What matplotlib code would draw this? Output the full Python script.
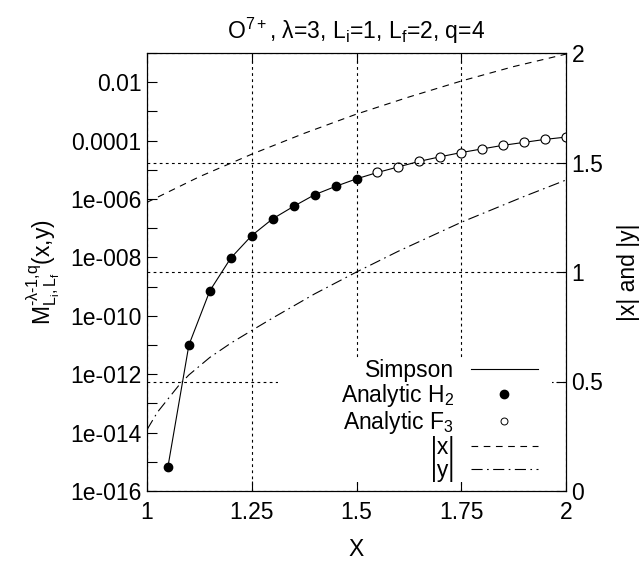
import matplotlib
matplotlib.use('Agg')
import matplotlib.pyplot as plt
from matplotlib.lines import Line2D
from matplotlib.patches import Rectangle
from matplotlib.ticker import FixedLocator, FuncFormatter

plt.rcParams['font.family'] = ['Liberation Sans', 'DejaVu Sans']
plt.rcParams['mathtext.fontset'] = 'custom'
plt.rcParams['mathtext.rm'] = 'Liberation Sans'
plt.rcParams['mathtext.it'] = 'Liberation Sans'
plt.rcParams['mathtext.sf'] = 'Liberation Sans'
plt.rcParams['mathtext.default'] = 'regular'

# ---- data ----
X_h2 = [1.05, 1.10, 1.15, 1.20, 1.25, 1.30, 1.35, 1.40, 1.45, 1.50]
M_h2 = [6.8e-16, 1.0e-11, 7.2e-10, 9.5e-9, 5.6e-8, 2.1e-7, 5.6e-7, 1.4e-6, 2.7e-6, 4.9e-6]
X_f3 = [1.55, 1.60, 1.65, 1.70, 1.75, 1.80, 1.85, 1.90, 1.95, 2.00]
M_f3 = [8.1e-6, 1.26e-5, 1.95e-5, 2.8e-5, 3.9e-5, 5.2e-5, 6.9e-5, 8.7e-5, 1.1e-4, 1.32e-4]
X_simpson = X_h2 + X_f3
M_simpson = M_h2 + M_f3

X_absx = [1.0, 1.125, 1.25, 1.375, 1.5, 1.625, 1.75, 1.875, 2.0]
abs_x = [1.318, 1.435, 1.538, 1.633, 1.721, 1.799, 1.872, 1.938, 1.995]

X_absy = [1.0, 1.025, 1.05, 1.075, 1.1, 1.15, 1.2, 1.25, 1.3, 1.35, 1.4, 1.5, 1.6, 1.75, 1.9, 2.0]
abs_y = [0.28, 0.36, 0.42, 0.48, 0.53, 0.61, 0.675, 0.733, 0.79, 0.845, 0.90, 1.0, 1.095, 1.227, 1.345, 1.42]

x_ticks = [1, 1.25, 1.5, 1.75, 2]
x_ticklabels = ['1', '1.25', '1.5', '1.75', '2']
y2_ticks = [0, 0.5, 1, 1.5, 2]
y2_ticklabels = ['0', '0.5', '1', '1.5', '2']
y_decades = list(range(-16, 0))

FS = 16.5
LW = 0.8

fig = plt.figure(figsize=(6.4, 5.64), dpi=100)
ax = fig.add_axes([147/640, 1-491/564, (566-147)/640, (491-53)/564])
ax2 = ax.twinx()

ax.set_yscale('log')
ax.set_xlim(1, 2)
ax.set_ylim(1e-16, 1e-1)
ax2.set_ylim(0, 2)

# main data
ax.plot(X_simpson, M_simpson, color='black', lw=LW, zorder=3)
ax.plot(X_h2, M_h2, 'o', color='black', ms=6, zorder=4)
ax.plot(X_f3, M_f3, 'o', mfc='white', mec='black', mew=0.8, ms=6.5, zorder=4)

dash_x = (0, (6, 5))
dash_y = (0, (10, 4, 1.5, 4))
ax2.plot(X_absx, abs_x, color='black', lw=LW, linestyle=dash_x)
ax2.plot(X_absy, abs_y, color='black', lw=LW, linestyle=dash_y)

# ticks
ax.xaxis.set_major_locator(FixedLocator(x_ticks))
ax.set_xticklabels(x_ticklabels)
ax.yaxis.set_major_locator(FixedLocator([10.0**d for d in y_decades]))
ax.yaxis.set_minor_locator(FixedLocator([]))

def fmt(v, pos):
    import math
    d = int(round(math.log10(v)))
    if d % 2:
        return ''
    if d >= -4:
        return ('%.' + str(-d) + 'f') % v
    return '1e-%03d' % (-d)

ax.yaxis.set_major_formatter(FuncFormatter(fmt))
ax2.yaxis.set_major_locator(FixedLocator(y2_ticks))
ax2.set_yticklabels(y2_ticklabels)

ax.tick_params(axis='x', which='both', direction='in', top=True, bottom=True,
               length=7, width=LW, labelsize=FS, pad=7)
ax.tick_params(axis='y', which='both', direction='in', left=True, right=False,
               length=7, width=LW, labelsize=FS, pad=4)
ax2.tick_params(axis='y', direction='in', right=True, left=False,
                length=7, width=LW, labelsize=FS, pad=4)
for a in (ax, ax2):
    for s in a.spines.values():
        s.set_linewidth(LW)

# grid
grid_ls = (0, (2.5, 3))
ax.grid(True, axis='x', color='black', lw=LW, linestyle=grid_ls)
ax2.grid(True, axis='y', color='black', lw=LW, linestyle=grid_ls)
ax.set_axisbelow(True)
ax2.set_axisbelow(True)

# opaque key area
ax2.add_patch(Rectangle((0.3126, 0.02), 0.654, 0.278, transform=ax2.transAxes,
                        facecolor='white', edgecolor='none', zorder=3))

handles = [
    Line2D([], [], color='black', lw=LW),
    Line2D([], [], ls='none', marker='o', color='black', ms=6),
    Line2D([], [], ls='none', marker='o', mfc='white', mec='black', mew=0.7, ms=5),
    Line2D([], [], color='black', lw=LW, linestyle=dash_x),
    Line2D([], [], color='black', lw=LW, linestyle=dash_y),
]
labels = ['Simpson', 'Analytic H$_2$', 'Analytic F$_3$', '|x|', '|y|']
leg = ax2.legend(handles, labels, loc='lower right', bbox_to_anchor=(0.932, 0.02),
                 frameon=False, markerfirst=False, fontsize=FS, handlelength=2.9,
                 handletextpad=0.75, labelspacing=0.0, borderpad=0, borderaxespad=0)
leg.set_zorder(5)
for t in leg.get_texts():
    t.set_horizontalalignment('right')

ax.set_title('O$^{7+}$, λ=3, L$_i$=1, L$_f$=2, q=4', fontsize=FS, pad=10)
ax.set_xlabel('X', fontsize=FS, labelpad=10)
ax.set_ylabel(r'$M_{L_i,L_f}^{\text{-λ-1,q}}$(x,y)', fontsize=FS, labelpad=6)
ax2.set_ylabel('|x| and |y|', fontsize=FS, labelpad=10)

fig.savefig('out.png', dpi=100)
